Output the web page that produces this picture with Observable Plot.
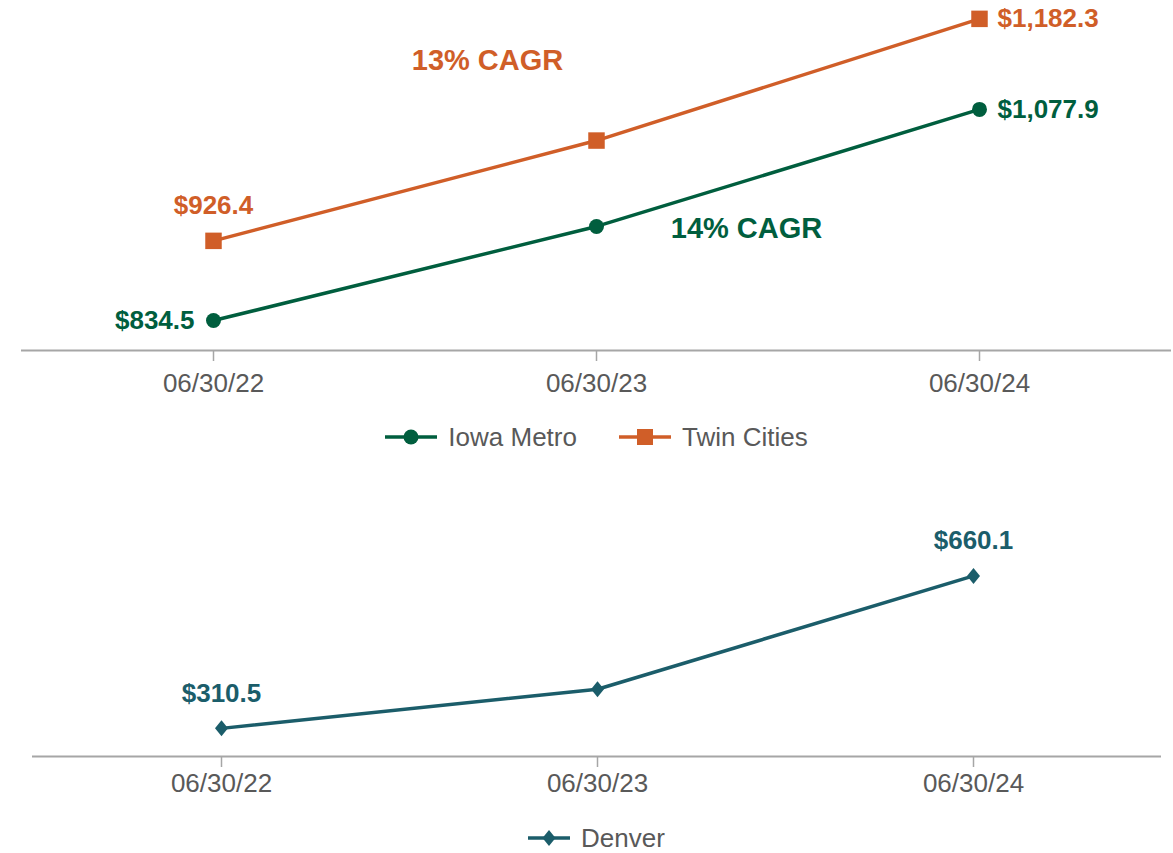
<!DOCTYPE html>
<html>
<head>
<meta charset="utf-8">
<script src="https://cdn.jsdelivr.net/npm/d3@7"></script>
<script src="https://cdn.jsdelivr.net/npm/@observablehq/plot@0.6"></script>
<style>
  body { margin: 0; background: #fff; font-family: "Liberation Sans", Arial, sans-serif; }
  #root { position: relative; width: 1173px; height: 853px; overflow: hidden; background: #fff; }
  .panel { position: absolute; left: 0; }
  .legend { position: absolute; left: 0; width: 1173px; height: 30px; display: flex; justify-content: center;
            align-items: center; gap: 42px; font-size: 26px; line-height: 1; color: #595959; padding-left: 20px; box-sizing: border-box; }
  .item { display: flex; align-items: center; gap: 11px; }
  .item svg { display: block; }
</style>
</head>
<body>
<div id="root"></div>
<script>
// ---- data ----
const dates = ["06/30/22", "06/30/23", "06/30/24"];
const iowaMetro = [834.5, 943.0, 1077.9];
const twinCities = [926.4, 1042.0, 1182.3];
const denver = [310.5, 400.2, 660.1];
const topSeries = ["Iowa Metro", "Twin Cities"];
const bottomSeries = ["Denver"];
const seriesColors = { "Iowa Metro": "#005E3E", "Twin Cities": "#D05E28", "Denver": "#1B5D6A" };
const yTopDomain = [800, 1200];
const yBottomDomain = [246, 700];

// ---- helpers ----
const fmt = d3.format("$,.1f");
const rows = (name, vals) => vals.map((v, i) => ({ series: name, date: dates[i], value: v }));
const iowaRows = rows("Iowa Metro", iowaMetro);
const twinRows = rows("Twin Cities", twinCities);
const denverRows = rows("Denver", denver);
const topRows = iowaRows.concat(twinRows);
const cagr = vals => Math.round((Math.pow(vals[vals.length - 1] / vals[0], 1 / (vals.length - 1)) - 1) * 100) + "% CAGR";

const FONT = "'Liberation Sans', Arial, sans-serif";
const AXIS_GRAY = "#a6a6a6";
const TEXT_GRAY = "#595959";

const diamond = {
  draw(ctx) { ctx.moveTo(0, -8); ctx.lineTo(6.5, 0); ctx.lineTo(0, 8); ctx.lineTo(-6.5, 0); ctx.closePath(); }
};

function axisMarks(y0, pad) {
  return [
    Plot.ruleY([y0], { stroke: AXIS_GRAY, strokeWidth: 2 }),
    Plot.axisX({ tickSize: 11, tickPadding: pad, stroke: AXIS_GRAY, strokeWidth: 1.5, fill: TEXT_GRAY, fontSize: 26, label: null })
  ];
}

const labelStyle = { fontSize: 26, fontWeight: "bold" };
const cagrStyle = { fontSize: 29, fontWeight: "bold" };

// ---- top chart ----
const topPlot = Plot.plot({
  width: 1173, height: 400,
  marginTop: 3, marginBottom: 50, marginLeft: 21, marginRight: 2,
  style: { fontFamily: FONT, background: "transparent", overflow: "visible" },
  x: { type: "point", domain: dates, padding: 0.5, axis: null },
  y: { domain: yTopDomain, axis: null },
  color: { domain: Object.keys(seriesColors), range: Object.values(seriesColors) },
  marks: [
    ...axisMarks(yTopDomain[0], 12),
    Plot.line(topRows, { x: "date", y: "value", z: "series", stroke: "series", strokeWidth: 3.5 }),
    Plot.dot(iowaRows, { x: "date", y: "value", fill: "series", r: 7.5, symbol: "circle" }),
    Plot.dot(twinRows, { x: "date", y: "value", fill: "series", r: 9.3, symbol: "square" }),
    // value labels
    Plot.text([iowaRows[0]], { x: "date", y: "value", text: d => fmt(d.value), fill: "series", textAnchor: "end", dx: -19, ...labelStyle }),
    Plot.text([iowaRows[2]], { x: "date", y: "value", text: d => fmt(d.value), fill: "series", textAnchor: "start", dx: 18, ...labelStyle }),
    Plot.text([twinRows[0]], { x: "date", y: "value", text: d => fmt(d.value), fill: "series", dy: -35, ...labelStyle }),
    Plot.text([twinRows[2]], { x: "date", y: "value", text: d => fmt(d.value), fill: "series", textAnchor: "start", dx: 18, ...labelStyle }),
    // CAGR annotations
    Plot.text([twinRows[1]], { x: "date", y: "value", text: () => cagr(twinCities), fill: "series", dx: -109, dy: -80, ...cagrStyle }),
    Plot.text([iowaRows[1]], { x: "date", y: "value", text: () => cagr(iowaMetro), fill: "series", dx: 150, dy: 2, ...cagrStyle })
  ]
});

// ---- bottom chart ----
const bottomPlot = Plot.plot({
  width: 1173, height: 340,
  marginTop: 88, marginBottom: 54, marginLeft: 32, marginRight: 12,
  style: { fontFamily: FONT, background: "transparent", overflow: "visible" },
  x: { type: "point", domain: dates, padding: 0.5, axis: null },
  y: { domain: yBottomDomain, axis: null },
  color: { domain: Object.keys(seriesColors), range: Object.values(seriesColors) },
  marks: [
    ...axisMarks(yBottomDomain[0], 6),
    Plot.line(denverRows, { x: "date", y: "value", stroke: "series", strokeWidth: 3.5 }),
    Plot.dot(denverRows, { x: "date", y: "value", fill: "series", symbol: diamond }),
    Plot.text([denverRows[0], denverRows[2]], { x: "date", y: "value", text: d => fmt(d.value), fill: "series", dy: -35, ...labelStyle })
  ]
});

// ---- legends ----
function icon(name) {
  const c = seriesColors[name];
  if (name === "Iowa Metro")
    return `<svg width="52" height="20"><line x1="0" x2="52" y1="10" y2="10" stroke="${c}" stroke-width="3.5"/><circle cx="26" cy="10" r="7.5" fill="${c}"/></svg>`;
  if (name === "Twin Cities")
    return `<svg width="52" height="20"><line x1="0" x2="52" y1="10" y2="10" stroke="${c}" stroke-width="3.5"/><rect x="18" y="2" width="16" height="16" fill="${c}"/></svg>`;
  return `<svg width="42" height="20"><line x1="0" x2="42" y1="10" y2="10" stroke="${c}" stroke-width="3.5"/><path d="M21,2L27.5,10L21,18L14.5,10Z" fill="${c}"/></svg>`;
}
function legend(names, top) {
  const div = document.createElement("div");
  div.className = "legend";
  div.style.top = top + "px";
  div.innerHTML = names.map(n => `<div class="item">${icon(n)}<span>${n}</span></div>`).join("");
  return div;
}

const root = document.getElementById("root");
topPlot.classList.add("panel"); topPlot.style.top = "0px";
bottomPlot.classList.add("panel"); bottomPlot.style.top = "470px";
root.appendChild(topPlot);
root.appendChild(legend(topSeries, 422));
root.appendChild(bottomPlot);
root.appendChild(legend(bottomSeries, 823));
</script>
</body>
</html>
